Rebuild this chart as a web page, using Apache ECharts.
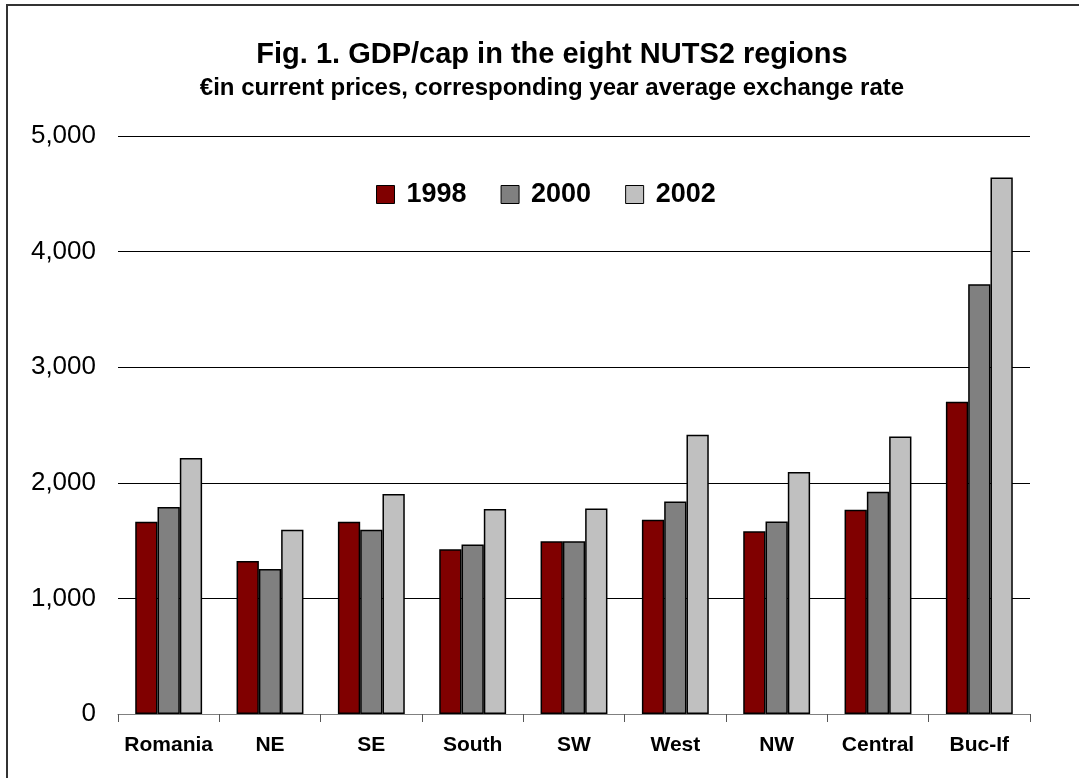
<!DOCTYPE html>
<html>
<head>
<meta charset="utf-8">
<script src="https://cdn.jsdelivr.net/npm/echarts@6/dist/echarts.min.js"></script>
<style>
html,body{margin:0;padding:0;background:#fff;}
#chart{width:1079px;height:778px;}
</style>
</head>
<body>
<div id="chart"></div>
<script>
const categories = ['Romania', 'NE', 'SE', 'South', 'SW', 'West', 'NW', 'Central', 'Buc-If'];
const seriesNames = ['1998', '2000', '2002'];
const values1998 = [1662, 1323, 1662, 1426, 1495, 1681, 1580, 1766, 2702];
const values2000 = [1791, 1254, 1593, 1467, 1495, 1838, 1665, 1923, 3717];
const values2002 = [2214, 1593, 1903, 1774, 1778, 2416, 2093, 2401, 4641];
const yTicks = [0, 1000, 2000, 3000, 4000, 5000];
const titleText = 'Fig. 1. GDP/cap in the eight NUTS2 regions';
const subtitleText = '€in current prices, corresponding year average exchange rate';

const FONT = '"Liberation Sans", Arial, sans-serif';
const colors = ['#800000', '#808080', '#C0C0C0'];
const allValues = [values1998, values2000, values2002];

const chart = echarts.init(document.getElementById('chart'), null, {renderer: 'canvas'});
chart.setOption({
  animation: false,
  backgroundColor: '#fff',
  textStyle: {fontFamily: FONT},
  graphic: [{
    type: 'rect',
    shape: {x: 7, y: 5, width: 1100, height: 800},
    style: {fill: 'none', stroke: '#333', lineWidth: 2},
    silent: true
  }],
  title: [
    {text: titleText, left: 547, textAlign: 'center', top: 35,
     textStyle: {fontFamily: FONT, fontSize: 29, fontWeight: 'bold', color: '#000'}},
    {text: subtitleText, left: 547, textAlign: 'center', top: 71,
     textStyle: {fontFamily: FONT, fontSize: 24, fontWeight: 'bold', color: '#000'}}
  ],
  legend: {
    data: seriesNames,
    left: 376,
    top: 181,
    padding: 0,
    itemWidth: 18,
    itemHeight: 18,
    itemGap: 34,
    icon: 'rect',
    itemStyle: {borderColor: '#000', borderWidth: 1},
    textStyle: {fontFamily: FONT, fontSize: 27, fontWeight: 'bold', color: '#000', padding: [0, 0, 0, 7]}
  },
  grid: {left: 118, right: 49, top: 136, bottom: 64, containLabel: false},
  xAxis: {
    type: 'category',
    data: categories,
    boundaryGap: true,
    axisLine: {lineStyle: {color: '#808080', width: 1}},
    axisTick: {show: true, length: 8, alignWithLabel: false, lineStyle: {color: '#555'}},
    axisLabel: {fontFamily: FONT, fontSize: 21, fontWeight: 'bold', color: '#000', margin: 21, interval: 0},
    splitLine: {show: false}
  },
  yAxis: {
    type: 'value',
    min: yTicks[0],
    max: yTicks[yTicks.length - 1],
    interval: 1000,
    axisLine: {show: false},
    axisTick: {show: false},
    axisLabel: {
      fontFamily: FONT, fontSize: 26, color: '#000', margin: 22,
      formatter: v => v.toLocaleString('en-US')
    },
    splitLine: {show: true, lineStyle: {color: '#000', width: 1}}
  },
  series: seriesNames.map((name, i) => ({
    name: name,
    type: 'bar',
    data: allValues[i],
    barGap: '0%',
    barCategoryGap: '34%',
    itemStyle: {color: colors[i], borderColor: '#000', borderWidth: 1.5}
  }))
});
</script>
</body>
</html>
